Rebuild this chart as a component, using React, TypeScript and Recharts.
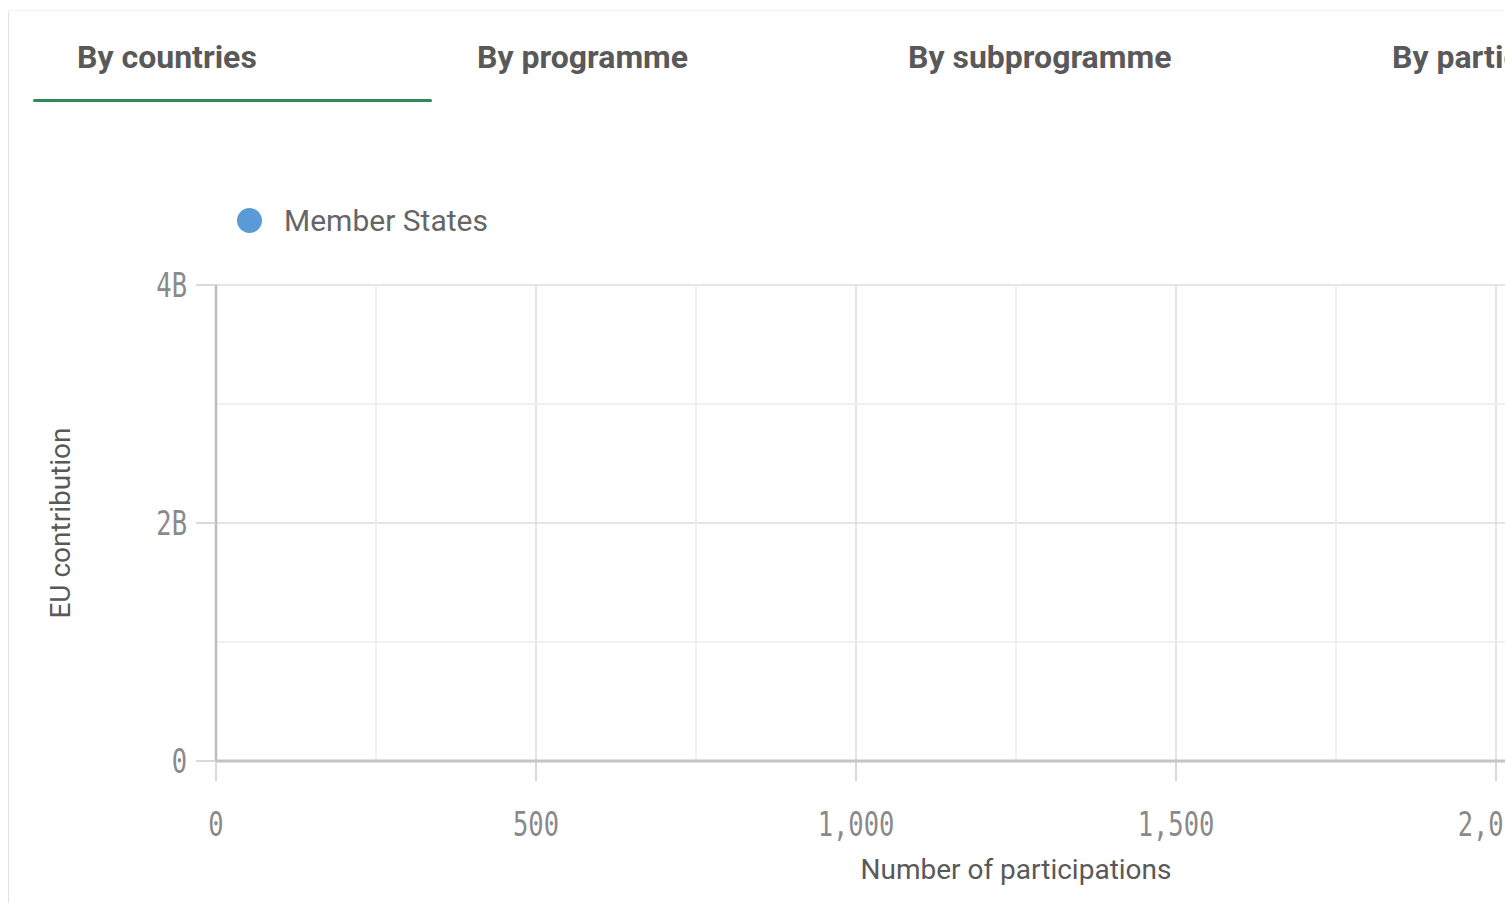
import React from 'react';
import { ScatterChart, Scatter, XAxis, YAxis, CartesianGrid, ReferenceLine, Label } from 'recharts';

const tabs = ['By countries', 'By programme', 'By subprogramme', 'By participant type'];
const seriesName = 'Member States';

// no points are shown in the view
const memberStates: { participations: number; contribution: number }[] = [];

const xTicks = [0, 500, 1000, 1500, 2000, 2500];
const xMinor = [250, 750, 1250, 1750, 2250];
const yTicks = [0, 2e9, 4e9];
const yMinor = [1e9, 3e9];

const tabLeft = [77, 477, 908, 1392];

const fmtX = (v: number) => v.toLocaleString('en-US');
const fmtY = (v: number) => (v === 0 ? '0' : `${v / 1e9}B`);

const tickFont = { fontFamily: '"DejaVu Sans Mono", monospace', fontSize: 34, fill: '#8a8a8a' };

const XTick = (props: any) => {
  const { x, y, payload } = props;
  return (
    <g transform={`translate(${x},${y})`}>
      <text transform="scale(0.75,1)" textAnchor="middle" dy="0.71em" {...tickFont}>
        {fmtX(payload.value)}
      </text>
    </g>
  );
};

const YTick = (props: any) => {
  const { x, y, payload } = props;
  return (
    <g transform={`translate(${x},${y})`}>
      <text transform="scale(0.75,1)" textAnchor="end" dy="0.355em" {...tickFont}>
        {fmtY(payload.value)}
      </text>
    </g>
  );
};

const titleStyle = { fontFamily: 'Roboto, sans-serif', fontSize: 28, fill: '#595959' };

export default function App() {
  return (
    <div style={{ position: 'relative', width: 1505, height: 903, overflow: 'hidden', background: '#fff', fontFamily: 'Roboto, sans-serif' }}>
      <style>{'body{margin:0;overflow:hidden}'}</style>
      <div
        style={{
          position: 'absolute', left: 8, top: 10, width: 1600, height: 950,
          borderLeft: '1px solid #e2e2e2', borderTop: '1px solid #f3f3f3', borderTopLeftRadius: 4,
        }}
      />

      {tabs.map((t, i) => (
        <div
          key={t}
          style={{
            position: 'absolute', left: tabLeft[i], top: 37, lineHeight: '40px',
            fontSize: 32, fontWeight: 700, color: '#595959', whiteSpace: 'nowrap',
          }}
        >
          {t}
        </div>
      ))}
      <div style={{ position: 'absolute', left: 33, top: 99, width: 399, height: 3, background: '#2f8a55', borderRadius: 2 }} />

      <div style={{ position: 'absolute', left: 237, top: 200, display: 'flex', alignItems: 'center', height: 40 }}>
        <span style={{ width: 25, height: 25, borderRadius: '50%', background: '#5a9ad6', display: 'inline-block' }} />
        <span style={{ marginLeft: 22, fontSize: 30, color: '#666' }}>{seriesName}</span>
      </div>

      <div style={{ position: 'absolute', left: 0, top: 0 }}>
        <ScatterChart width={1900} height={903} margin={{ top: 285, right: 84, bottom: 42, left: 0 }}>
          <CartesianGrid stroke="#dcdcdc" strokeWidth={1.5} />
          {xMinor.map((v) => (
            <ReferenceLine key={`x${v}`} x={v} stroke="#ececec" strokeWidth={1.5} />
          ))}
          {yMinor.map((v) => (
            <ReferenceLine key={`y${v}`} y={v} stroke="#ececec" strokeWidth={1.5} />
          ))}
          <XAxis
            type="number"
            dataKey="participations"
            domain={[0, 2500]}
            allowDataOverflow
            ticks={xTicks}
            height={100}
            tickSize={20}
            tickMargin={31}
            tick={<XTick />}
            axisLine={{ stroke: '#c4c4c4', strokeWidth: 3 }}
            tickLine={{ stroke: '#cccccc', strokeWidth: 1.5 }}
          >
            <Label
              content={(p: any) => {
                const vb = p.viewBox;
                return (
                  <text x={vb.x + vb.width / 2} y={vb.y + 108} textAnchor="middle" dominantBaseline="central" {...titleStyle}>
                    Number of participations
                  </text>
                );
              }}
            />
          </XAxis>
          <YAxis
            type="number"
            dataKey="contribution"
            domain={[0, 4e9]}
            allowDataOverflow
            ticks={yTicks}
            width={216}
            tickSize={20}
            tickMargin={9}
            tick={<YTick />}
            axisLine={{ stroke: '#bdbdbd', strokeWidth: 2.5 }}
            tickLine={{ stroke: '#cccccc', strokeWidth: 1.5 }}
          >
            <Label
              content={(p: any) => {
                const vb = p.viewBox;
                const cx = vb.x + 60;
                const cy = vb.y + vb.height / 2;
                return (
                  <text x={cx} y={cy} transform={`rotate(-90, ${cx}, ${cy})`} textAnchor="middle" dominantBaseline="central" {...titleStyle}>
                    EU contribution
                  </text>
                );
              }}
            />
          </YAxis>
          <Scatter name={seriesName} data={memberStates} fill="#5a9ad6" isAnimationActive={false} />
        </ScatterChart>
      </div>
    </div>
  );
}
